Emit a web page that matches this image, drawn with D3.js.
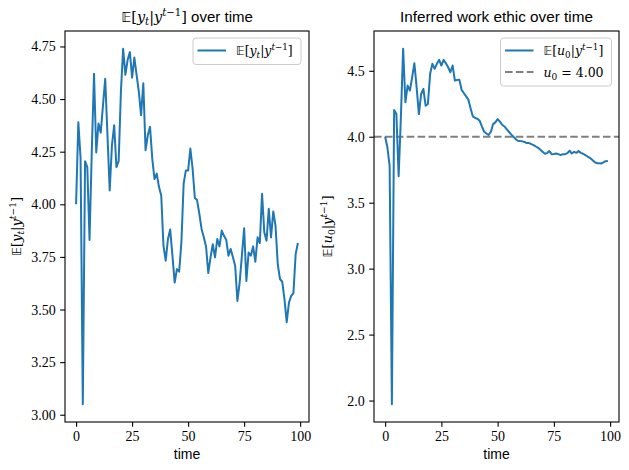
<!DOCTYPE html>
<html>
<head>
<meta charset="utf-8">
<script src="https://cdn.jsdelivr.net/npm/d3@7"></script>
<style>
  body { margin: 0; background: #fff; }
  svg { display: block; }
  .tick text { font-family: "Liberation Serif", serif; font-size: 14px; fill: #000; }
</style>
</head>
<body>
<svg id="chart" width="629" height="470"></svg>
<script>
"use strict";

// time steps 0..99
const TIME = d3.range(0, 100);

// E[y_t | y^{t-1}]
const Y_PRED = [
  4.00, 4.39, 4.22, 3.05, 4.205, 4.177, 3.83, 4.25, 4.62, 4.246,
  4.384, 4.34, 4.47, 4.596, 4.33, 4.066, 4.28, 4.376, 4.177, 4.205,
  4.535, 4.739, 4.615, 4.686, 4.723, 4.602, 4.697, 4.615, 4.535, 4.424,
  4.575, 4.257, 4.328, 4.368, 4.217, 4.12, 4.146, 4.082, 4.042, 3.803,
  3.732, 3.835, 3.88, 3.756, 3.628, 3.692, 3.68, 3.819, 4.098, 4.161,
  4.161, 4.265, 4.17, 4.03, 4.02, 3.955, 3.883, 3.843, 3.80, 3.673,
  3.748, 3.81, 3.748, 3.835, 3.80, 3.875, 3.85, 3.832, 3.756, 3.788,
  3.748, 3.708, 3.541, 3.628, 3.756, 3.886, 3.636, 3.771, 3.756, 3.80,
  3.727, 3.843, 3.816, 4.05, 3.867, 3.827, 3.979, 3.843, 3.966, 3.899,
  3.716, 3.645, 3.632, 3.549, 3.44, 3.533, 3.565, 3.578, 3.764, 3.816
];

// E[u_0 | y^{t-1}]
const U_POST = [
  4.00, 3.92, 3.78, 1.972, 4.203, 4.172, 3.70, 4.15, 4.667, 4.261,
  4.388, 4.35, 4.45, 4.557, 4.375, 4.172, 4.324, 4.362, 4.236, 4.248,
  4.477, 4.553, 4.515, 4.553, 4.583, 4.54, 4.583, 4.557, 4.527, 4.489,
  4.54, 4.426, 4.43, 4.433, 4.355, 4.33, 4.306, 4.281, 4.215, 4.154,
  4.142, 4.137, 4.122, 4.078, 4.038, 4.025, 4.013, 4.038, 4.096, 4.109,
  4.134, 4.114, 4.091, 4.078, 4.058, 4.038, 4.018, 4.0, 3.982, 3.97,
  3.967, 3.965, 3.96, 3.952, 3.952, 3.944, 3.937, 3.926, 3.916, 3.901,
  3.886, 3.871, 3.876, 3.891, 3.868, 3.87, 3.873, 3.868, 3.861, 3.868,
  3.868, 3.876, 3.894, 3.873, 3.886, 3.878, 3.891, 3.878, 3.871, 3.861,
  3.85, 3.84, 3.825, 3.81, 3.80, 3.80, 3.797, 3.805, 3.815, 3.817
];

const U_TRUE = 4.00;

const X_TICKS = [0, 25, 50, 75, 100];
const Y_TICKS_LEFT = [3.00, 3.25, 3.50, 3.75, 4.00, 4.25, 4.50, 4.75];
const Y_TICKS_RIGHT = [2.0, 2.5, 3.0, 3.5, 4.0, 4.5];

const BLUE = '#1f77b4';
const MATH = '"DejaVu Serif", serif';
const SANS = '"Liberation Sans", Arial, sans-serif';

const svg = d3.select('#chart');

// writes E[v_sub | y^{t-1}] as tspans into a text element
function mathE(text, v, sub, fs) {
  text.attr('font-family', MATH).attr('font-size', fs);
  text.append('tspan').attr('font-family', '"DejaVu Sans", sans-serif').attr('font-size', fs * 0.95).text('𝔼');
  text.append('tspan').text('[');
  text.append('tspan').attr('font-style', 'italic').text(v);
  text.append('tspan').attr('font-size', fs * 0.7).attr('dy', fs * 0.22)
    .attr('font-style', sub === 't' ? 'italic' : 'normal').text(sub);
  text.append('tspan').attr('dy', -fs * 0.22).text('|');
  text.append('tspan').attr('font-style', 'italic').text('y');
  text.append('tspan').attr('font-size', fs * 0.7).attr('dy', -fs * 0.42).attr('font-style', 'italic').text('t');
  text.append('tspan').attr('font-size', fs * 0.7).text('−1');
  text.append('tspan').attr('dy', fs * 0.42).text(']');
  return text;
}

function padded(ext) {
  let m = (ext[1] - ext[0]) * 0.05;
  return [ext[0] - m, ext[1] + m];
}

function drawPanel(cfg) {
  let { left, right, top, bottom } = cfg.box;
  let x = d3.scaleLinear().domain(padded(d3.extent(TIME))).range([left, right]);
  let y = d3.scaleLinear().domain(padded(d3.extent(cfg.values))).range([bottom, top]);

  let g = svg.append('g');

  // clip so the axhline stays inside
  let clipId = 'clip-' + cfg.id;
  g.append('clipPath').attr('id', clipId)
    .append('rect').attr('x', left).attr('y', top).attr('width', right - left).attr('height', bottom - top);

  let plot = g.append('g').attr('clip-path', 'url(#' + clipId + ')');

  if (cfg.hline != null) {
    plot.append('line')
      .attr('x1', left).attr('x2', right)
      .attr('y1', y(cfg.hline)).attr('y2', y(cfg.hline))
      .attr('stroke', '#808080').attr('stroke-width', 2)
      .attr('stroke-dasharray', '7.6,3.3');
  }

  let line = d3.line().x((d, i) => x(TIME[i])).y((d) => y(d));
  plot.append('path').datum(cfg.values)
    .attr('d', line).attr('fill', 'none')
    .attr('stroke', BLUE).attr('stroke-width', 2).attr('stroke-linejoin', 'round');

  // axes
  let xAxis = d3.axisBottom(x).tickValues(X_TICKS).tickFormat(d3.format('d')).tickSizeOuter(0).tickSize(4.8).tickPadding(4.5);
  let yAxis = d3.axisLeft(y).tickValues(cfg.yTicks).tickFormat(d3.format(cfg.yFormat)).tickSizeOuter(0).tickSize(4.8).tickPadding(4.5);
  g.append('g').attr('transform', 'translate(0,' + bottom + ')').call(xAxis).call((a) => a.select('.domain').remove());
  g.append('g').attr('transform', 'translate(' + left + ',0)').call(yAxis).call((a) => a.select('.domain').remove());
  g.selectAll('.tick line').attr('stroke', '#000').attr('stroke-width', 1.1);

  g.append('rect')
    .attr('x', left).attr('y', top).attr('width', right - left).attr('height', bottom - top)
    .attr('fill', 'none').attr('stroke', '#000').attr('stroke-width', 1.1);

  // title
  let cx = (left + right) / 2;
  let title = g.append('text').attr('x', cx).attr('y', 22).attr('text-anchor', 'middle');
  if (cfg.titleMath) {
    mathE(title, 'y', 't', 14.5);
    title.append('tspan').attr('font-family', SANS).attr('font-size', 15).text(' over time');
  } else {
    title.attr('font-family', SANS).attr('font-size', 15.3).text(cfg.title);
  }

  g.append('text').attr('x', cx).attr('y', 459).attr('text-anchor', 'middle')
    .attr('font-family', SANS).attr('font-size', 14).text('time');

  let yl = g.append('text').attr('text-anchor', 'middle')
    .attr('transform', 'translate(' + cfg.ylabelX + ',' + ((top + bottom) / 2) + ') rotate(-90)');
  mathE(yl, cfg.var, cfg.sub, 13);

  // legend
  let lg = cfg.legend;
  let rows = cfg.hline != null ? 2 : 1;
  let lh = 21.5;
  let boxH = 11 + rows * lh - 6;
  g.append('rect')
    .attr('x', lg.x).attr('y', lg.y).attr('width', lg.w).attr('height', boxH)
    .attr('rx', 3).attr('fill', '#fff').attr('fill-opacity', 0.8)
    .attr('stroke', '#cccccc').attr('stroke-width', 1);

  let r0 = lg.y + 12.5;
  g.append('line').attr('x1', lg.x + 4.5).attr('x2', lg.x + 33).attr('y1', r0).attr('y2', r0)
    .attr('stroke', BLUE).attr('stroke-width', 2);
  let t0 = g.append('text').attr('x', lg.x + 43).attr('y', r0 + 4.5);
  mathE(t0, cfg.var, cfg.sub, 12.5);

  if (rows === 2) {
    let r1 = r0 + lh;
    g.append('line').attr('x1', lg.x + 4.5).attr('x2', lg.x + 33).attr('y1', r1).attr('y2', r1)
      .attr('stroke', '#808080').attr('stroke-width', 2).attr('stroke-dasharray', '7.6,3.3');
    let t1 = g.append('text').attr('x', lg.x + 43).attr('y', r1 + 4.5)
      .attr('font-family', MATH).attr('font-size', 12.5);
    t1.append('tspan').attr('font-style', 'italic').text('u');
    t1.append('tspan').attr('font-size', 9).attr('dy', 3).text('0');
    t1.append('tspan').attr('dy', -3).text(' = ' + d3.format('.2f')(cfg.hline));
  }
}

drawPanel({
  id: 'left',
  box: { left: 65, right: 309, top: 31, bottom: 422 },
  values: Y_PRED,
  yTicks: Y_TICKS_LEFT,
  yFormat: '.2f',
  titleMath: true,
  var: 'y', sub: 't',
  ylabelX: 21,
  legend: { x: 193, y: 38, w: 108 }
});

drawPanel({
  id: 'right',
  box: { left: 374, right: 619, top: 31, bottom: 422 },
  values: U_POST,
  yTicks: Y_TICKS_RIGHT,
  yFormat: '.1f',
  title: 'Inferred work ethic over time',
  var: 'u', sub: '0',
  hline: U_TRUE,
  ylabelX: 332,
  legend: { x: 500.5, y: 38, w: 111 }
});
</script>
</body>
</html>
